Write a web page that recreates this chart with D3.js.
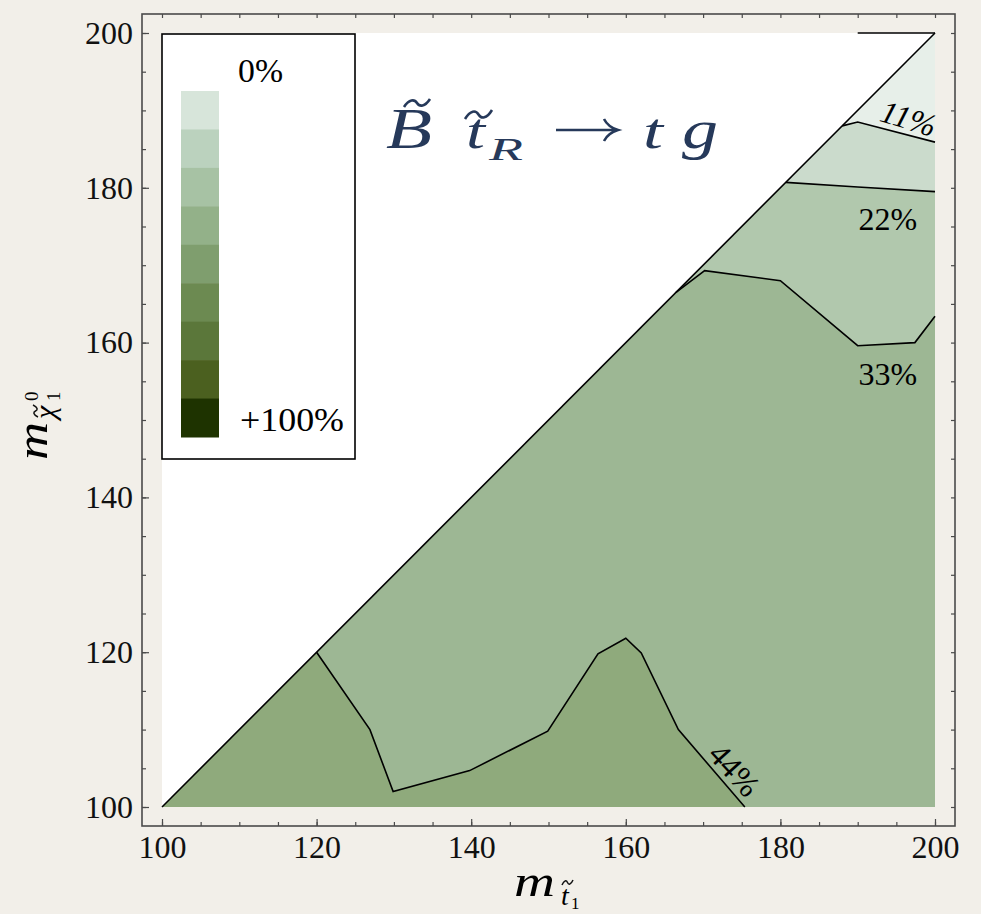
<!DOCTYPE html>
<html>
<head>
<meta charset="utf-8">
<script src="https://cdn.jsdelivr.net/npm/d3@7/dist/d3.min.js"></script>
<style>
  * { margin: 0; padding: 0; }
  body { background: #f2efe9; overflow: hidden; }
  text { font-family: "Liberation Serif", "DejaVu Serif", serif; }
</style>
</head>
<body>
<svg id="chart" width="981" height="914"></svg>
<script>
// axis ticks
const majorTicks = [100, 120, 140, 160, 180, 200]
const minorTicks = d3.range(100, 201, 5)

// contour lines, [m_stop, m_neutralino]
const line11 = [[188, 188], [190, 188.5], [200, 185.9]]
const line22 = [[180.7, 180.7], [190, 180.1], [200, 179.5]]
const line33 = [[166.5, 166.5], [170.2, 169.3], [180, 168], [190, 159.6], [197.4, 160], [200, 163.4]]
const line44 = [[120, 120], [126.9, 110], [129.9, 102], [139.8, 104.7], [149.9, 109.8], [156.4, 119.8],
  [160, 121.8], [162, 119.9], [166.8, 110], [175.4, 100]]
const lineTop = [[190, 200], [200, 200]]

// band fills (lightest to darkest region)
const bandColors = ['#e7efe9', '#cbdbcc', '#b1c8ad', '#9db794', '#8faa7c']
const contourLabels = ['11%', '22%', '33%', '44%']

// legend
const legendColors = ['#d7e5da', '#bbd2be', '#a7c2a4', '#93b189', '#7f9e6e', '#6c8a51', '#5b773a', '#4b601f', '#1e3300']
const legendLabels = ['0%', '+100%']

const svg = d3.select('#chart')
const x = d3.scaleLinear().domain([100, 200]).range([162, 935])
const y = d3.scaleLinear().domain([100, 200]).range([807, 33])
const pt = d => [x(d[0]), y(d[1])]
const line = d3.line().x(d => x(d[0])).y(d => y(d[1]))

// white upper triangle + base band
svg.append('path')
  .attr('d', 'M' + [[100, 100], [100, 200], [200, 200]].map(pt).join('L') + 'Z')
  .attr('fill', '#fff')
svg.append('path')
  .attr('d', 'M' + [[100, 100], [200, 200], [200, 100]].map(pt).join('L') + 'Z')
  .attr('fill', bandColors[3])

// regions above each contour up to the diagonal
function upperRegion(pts, color) {
  const poly = pts.concat([[200, 200], pts[0]])
  svg.append('path')
    .attr('d', 'M' + poly.map(pt).join('L') + 'Z')
    .attr('fill', color)
}
upperRegion(line33, bandColors[2])
upperRegion(line22, bandColors[1])
upperRegion(line11, bandColors[0])

// region below 44% contour
svg.append('path')
  .attr('d', 'M' + [[100, 100]].concat(line44).map(pt).join('L') + 'Z')
  .attr('fill', bandColors[4])

// contour lines
;[line11, line22, line33, line44, lineTop].forEach(l => {
  svg.append('path')
    .attr('d', line(l))
    .attr('fill', 'none')
    .attr('stroke', '#000')
    .attr('stroke-width', 1.6)
})

// diagonal
svg.append('path')
  .attr('d', line([[100, 100], [200, 200]]))
  .attr('stroke', '#000')
  .attr('stroke-width', 1.6)

// contour labels: [x, y, angle]
const labelPos = [[196.6, 189.0, 17], [193.9, 176.0, 0], [193.9, 156.0, 0], [174.1, 104.8, 48]]
contourLabels.forEach((t, i) => {
  const p = labelPos[i]
  svg.append('text')
    .attr('transform', `translate(${x(p[0])},${y(p[1])}) rotate(${p[2]})`)
    .attr('text-anchor', 'middle')
    .attr('dy', '0.35em')
    .attr('font-size', 32)
    .attr('font-style', i === 0 ? 'italic' : 'normal')
    .text(t)
})

// frame
const frame = { left: 142, right: 955, top: 14, bottom: 826 }
svg.append('rect')
  .attr('x', frame.left).attr('y', frame.top)
  .attr('width', frame.right - frame.left).attr('height', frame.bottom - frame.top)
  .attr('fill', 'none').attr('stroke', '#4a4a4a').attr('stroke-width', 1.6)

function styleAxis(g) {
  g.select('.domain').remove()
  g.selectAll('line').attr('stroke', '#4a4a4a').attr('stroke-width', 1.2)
  g.selectAll('text').attr('font-size', 32).attr('fill', '#111')
    .attr('font-family', '"Liberation Serif", serif')
}

svg.append('g').attr('transform', `translate(0,${frame.bottom})`)
  .call(d3.axisBottom(x).tickValues(minorTicks).tickSize(-4).tickFormat(''))
  .call(styleAxis)
svg.append('g').attr('transform', `translate(0,${frame.bottom})`)
  .call(d3.axisBottom(x).tickValues(majorTicks).tickSize(-7).tickPadding(9).tickFormat(d3.format('d')))
  .call(styleAxis)
svg.append('g').attr('transform', `translate(0,${frame.top})`)
  .call(d3.axisTop(x).tickValues(minorTicks).tickSize(-4).tickFormat(''))
  .call(styleAxis)
svg.append('g').attr('transform', `translate(${frame.left},0)`)
  .call(d3.axisLeft(y).tickValues(minorTicks).tickSize(-4).tickFormat(''))
  .call(styleAxis)
svg.append('g').attr('transform', `translate(${frame.left},0)`)
  .call(d3.axisLeft(y).tickValues(majorTicks).tickSize(-7).tickPadding(9).tickFormat(d3.format('d')))
  .call(styleAxis)
svg.append('g').attr('transform', `translate(${frame.right},0)`)
  .call(d3.axisRight(y).tickValues(minorTicks).tickSize(-4).tickFormat(''))
  .call(styleAxis)

// small tilde accent
function tilde(g, x0, y0, w, h, sw) {
  g.append('path')
    .attr('d', `M${x0},${y0 + h} C${x0 + w * 0.2},${y0} ${x0 + w * 0.4},${y0} ${x0 + w * 0.5},${y0 + h * 0.5}` +
      ` S${x0 + w * 0.8},${y0 + h} ${x0 + w},${y0}`)
    .attr('fill', 'none').attr('stroke', 'currentColor').attr('stroke-width', sw)
}

// x axis title  m_{t~_1}
const xt = svg.append('g').attr('color', '#111')
xt.append('text').attr('x', 514).attr('y', 896).attr('font-size', 44).attr('font-style', 'italic')
  .attr('textLength', 41).attr('lengthAdjust', 'spacingAndGlyphs').text('m')
xt.append('text').attr('x', 561).attr('y', 905).attr('font-size', 28).attr('font-style', 'italic').text('t')
tilde(xt, 562, 880, 11, 5, 1.5)
xt.append('text').attr('x', 571).attr('y', 909).attr('font-size', 17).text('1')

// y axis title  m_{chi~^0_1}
const yt = svg.append('g').attr('transform', 'translate(47,460) rotate(-90)').attr('color', '#111')
yt.append('text').attr('x', 0).attr('y', 0).attr('font-size', 44).attr('font-style', 'italic')
  .attr('textLength', 38).attr('lengthAdjust', 'spacingAndGlyphs').text('m')
yt.append('text').attr('x', 41).attr('y', 8).attr('font-size', 30).attr('font-style', 'italic').text('\u03c7')
tilde(yt, 43, -14, 12, 5, 1.5)
yt.append('text').attr('x', 59).attr('y', -9).attr('font-size', 19).text('0')
yt.append('text').attr('x', 59).attr('y', 13).attr('font-size', 19).text('1')

// legend
svg.append('rect')
  .attr('x', 162).attr('y', 34).attr('width', 193).attr('height', 425)
  .attr('fill', '#fff').attr('stroke', '#000').attr('stroke-width', 1.6)
const ly = d3.scaleBand().domain(d3.range(legendColors.length)).range([91, 437])
svg.append('g').selectAll('rect').data(legendColors).join('rect')
  .attr('x', 181).attr('width', 38)
  .attr('y', (d, i) => ly(i)).attr('height', ly.bandwidth() + 0.5)
  .attr('fill', d => d)
svg.append('text').attr('x', 238).attr('y', 82).attr('font-size', 33)
  .attr('textLength', 45).attr('lengthAdjust', 'spacingAndGlyphs').text(legendLabels[0])
svg.append('text').attr('x', 240).attr('y', 431).attr('font-size', 33)
  .attr('textLength', 104).attr('lengthAdjust', 'spacingAndGlyphs').text(legendLabels[1])

// title  B~ t~_R -> t g
const title = svg.append('g').attr('fill', '#26395a').attr('color', '#26395a').attr('font-style', 'italic')
title.append('text').attr('x', 386).attr('y', 148).attr('font-size', 56)
  .attr('textLength', 46).attr('lengthAdjust', 'spacingAndGlyphs').text('B')
tilde(title, 404, 99, 26, 8, 2.6)
title.append('text').attr('x', 466).attr('y', 148).attr('font-size', 51)
  .attr('textLength', 19).attr('lengthAdjust', 'spacingAndGlyphs').text('t')
tilde(title, 465, 110, 27, 9, 2.6)
title.append('text').attr('x', 489).attr('y', 160).attr('font-size', 32)
  .attr('textLength', 34).attr('lengthAdjust', 'spacingAndGlyphs').text('R')
svg.append('path')
  .attr('d', 'M556,130 L616,130 M604,119 Q608,127 618,130 Q608,133 604,141')
  .attr('fill', 'none').attr('stroke', '#26395a').attr('stroke-width', 2.6)
title.append('text').attr('x', 643).attr('y', 148).attr('font-size', 51)
  .attr('textLength', 20).attr('lengthAdjust', 'spacingAndGlyphs').text('t')
title.append('text').attr('x', 682).attr('y', 148).attr('font-size', 54)
  .attr('textLength', 36).attr('lengthAdjust', 'spacingAndGlyphs').text('g')
</script>
</body>
</html>
